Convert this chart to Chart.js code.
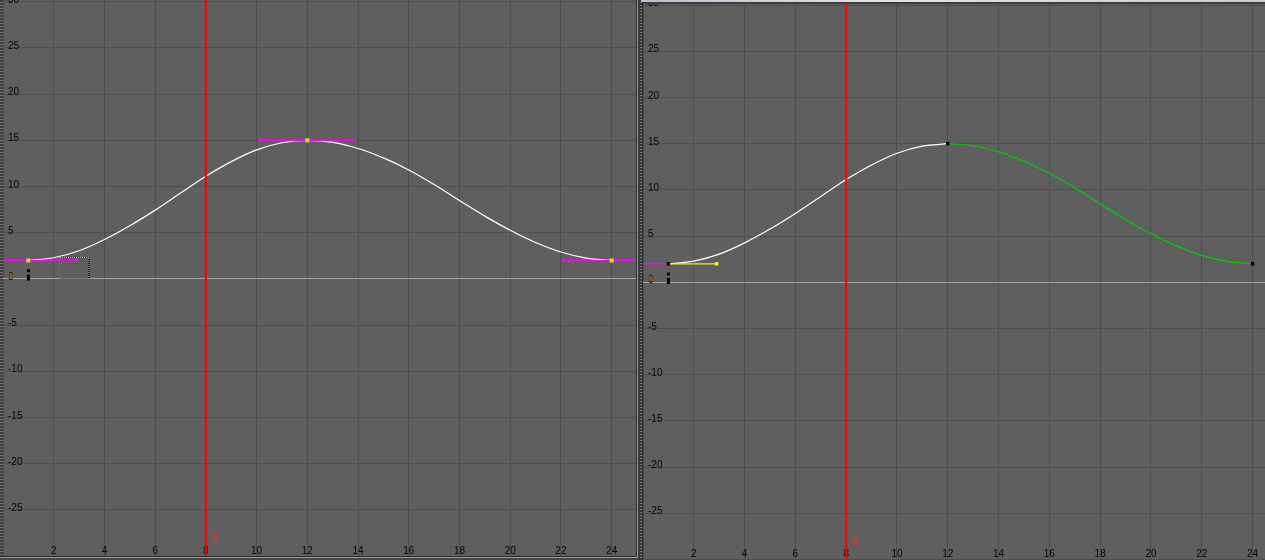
<!DOCTYPE html>
<html>
<head>
<meta charset="utf-8">
<script src="https://cdn.jsdelivr.net/npm/chart.js@4.4.1/dist/chart.umd.min.js"></script>
<style>
html,body{margin:0;padding:0;width:1265px;height:560px;overflow:hidden;background:#474747;}
body{position:relative;}
.abs{position:absolute;}
canvas{background:#5f5f5f;display:block;}
#c1{position:absolute;left:3px;top:0;}
#c2{position:absolute;left:643px;top:4px;}
#lstrip{left:0;top:0;width:3px;height:556px;background:repeating-linear-gradient(to bottom,#3e3e3e 0,#3e3e3e 2px,#737373 2px,#737373 3px);}
#lbot1{left:0;top:556px;width:637px;height:1px;background:#2e2e2e;}
#lbot2{left:0;top:557px;width:638px;height:1px;background:#9a9a9a;}
#lright1{left:636px;top:0;width:1px;height:557px;background:#2e2e2e;}
#lright2{left:637px;top:0;width:1px;height:558px;background:#9a9a9a;}
#div1{left:638px;top:0;width:2px;height:560px;background:#3a3a3a;}
#div2{left:640px;top:0;width:2px;height:560px;background:repeating-linear-gradient(to bottom,#3a3a3a 0,#3a3a3a 2px,#7a7a7a 2px,#7a7a7a 3px);}
#div3{left:642px;top:0;width:1px;height:560px;background:#2e2e2e;}
#rtop1{left:641px;top:0;width:624px;height:2px;background:linear-gradient(to right,#b8c2d0,#dde3ea 40%,#c4ccd8);}
#rtop2{left:641px;top:2px;width:624px;height:2px;background:#3c3c3c;}
.icon{position:absolute;font:bold 9px "DejaVu Sans",sans-serif;color:#8a5a26;line-height:9px;}
</style>
</head>
<body>
<div class="abs" id="lstrip"></div>
<canvas id="c1" width="633" height="556"></canvas>
<div class="abs" id="lbot1"></div>
<div class="abs" id="lbot2"></div>
<div class="abs" id="lright1"></div>
<div class="abs" id="lright2"></div>
<div class="abs" id="div1"></div>
<div class="abs" id="div2"></div>
<div class="abs" id="div3"></div>
<div class="abs" id="rtop1"></div>
<div class="abs" id="rtop2"></div>
<canvas id="c2" width="622" height="556"></canvas>
<span class="icon" style="left:7px;top:271px;">∩</span>
<span class="icon" style="left:647px;top:274px;">∩</span>
<script>
// ---- data (frames / values) ----
const frames = [1,2,3,4,5,6,7,8,9,10,11,12,13,14,15,16,17,18,19,20,21,22,23,24];
const curveValues = [2.0,2.3,3.05,4.27,5.76,7.45,9.3,11.12,12.7,13.97,14.74,15.0,14.78,14.12,13.1,11.8,10.22,8.5,6.8,5.27,3.95,2.92,2.26,2.0];
const keyFrames = [1,12,24];
const keyValues = [2,15,2];
const xTickLabels = [2,4,6,8,10,12,14,16,18,20,22,24];
const yTickLabels = [30,25,20,15,10,5,0,-5,-10,-15,-20,-25];
const currentFrame = 8;

// left panel tangent handles (x pairs, y value)
const leftHandle1X = [-1, 2.9];   const leftHandle1Y = [2, 2];
const leftHandle2X = [10.12, 13.87]; const leftHandle2Y = [15, 15];
const leftHandle3X = [22.12, 26]; const leftHandle3Y = [2, 2];
const leftHandleEndX = [2.9, 10.12, 13.87, 22.12];
const leftHandleEndY = [2, 15, 15, 2];
// selection box in left panel
const selBoxX = [2.24, 3.39, 3.39, 2.24, 2.24];
const selBoxY = [2.34, 2.34, 0.03, 0.03, 2.34];
// right panel handles
const rightInHandleX = [-1, 1];  const rightInHandleY = [2, 2];
const rightOutHandleX = [1, 2.9]; const rightOutHandleY = [2, 2];
// timeline key marker
const markerSmallY = 0.9;
const markerTallY = [-0.18, 0.47];

const pts = (xs, ys) => xs.map((x, i) => ({x, y: ys[i]}));
const curveAll = pts(frames, curveValues);
const curveFirst = curveAll.filter(p => p.x <= 12);
const curveSecond = curveAll.filter(p => p.x >= 12);

const editorText = {
  id: 'editorText',
  beforeDatasetsDraw(chart, args, opts) {
    const {ctx, chartArea: a, scales: {x, y}} = chart;
    ctx.save();
    ctx.fillStyle = '#050505';
    ctx.font = '10px "Liberation Sans", Arial, sans-serif';
    ctx.textBaseline = 'alphabetic';
    ctx.textAlign = 'left';
    yTickLabels.forEach(v => ctx.fillText(String(v), a.left + 5, y.getPixelForValue(v) + 1));
    ctx.textAlign = 'center';
    xTickLabels.forEach(v => ctx.fillText(String(v), x.getPixelForValue(v), a.bottom - opts.xBase));
    ctx.restore();
  },
  afterDatasetsDraw(chart, args, opts) {
    const {ctx, chartArea: a, scales: {x}} = chart;
    ctx.save();
    ctx.fillStyle = '#ff2a2a';
    ctx.font = '10.5px "Liberation Sans", Arial, sans-serif';
    ctx.textAlign = 'left';
    ctx.textBaseline = 'alphabetic';
    ctx.fillText(String(currentFrame), x.getPixelForValue(currentFrame) + 6, a.bottom - opts.redBase);
    ctx.restore();
  }
};

function lineDs(data, color, width, extra) {
  return Object.assign({data, borderColor: color, backgroundColor: color, borderWidth: width,
    pointRadius: 0, fill: false, tension: 0}, extra || {});
}
function pointDs(data, color, radius) {
  return {data, showLine: false, pointStyle: 'rect', pointRadius: radius, pointBorderWidth: 0,
    pointBackgroundColor: color, pointBorderColor: color, borderColor: color, backgroundColor: color};
}

function makeChart(id, xMax, yMin, yMax, datasets, textOpts) {
  return new Chart(document.getElementById(id), {
    type: 'line',
    data: {datasets},
    options: {
      responsive: false, animation: false, devicePixelRatio: 1, events: [],
      layout: {padding: 0, autoPadding: false},
      plugins: {legend: {display: false}, tooltip: {enabled: false}, editorText: textOpts},
      scales: {
        x: {type: 'linear', min: 0, max: xMax, border: {display: false},
            ticks: {display: false, stepSize: 2, includeBounds: false},
            grid: {color: '#4f4f4f', drawTicks: false, lineWidth: 1}},
        y: {type: 'linear', min: yMin, max: yMax, border: {display: false},
            ticks: {display: false, stepSize: 5, includeBounds: false},
            grid: {color: c => (c.tick && c.tick.value === 0) ? '#a2a2a2' : '#4f4f4f', drawTicks: false, lineWidth: 1}}
      }
    },
    plugins: [editorText]
  });
}

// Left panel (first dataset drawn on top)
const leftYMax = 30.19, leftYMin = -29.98;
makeChart('c1', 24.96, leftYMin, leftYMax, [
  lineDs([{x: currentFrame, y: leftYMin - 1}, {x: currentFrame, y: leftYMax + 1}], '#ff0000', 2),
  pointDs(pts(keyFrames, keyValues), '#e6e61a', 2.8),
  pointDs(pts(leftHandleEndX, leftHandleEndY), '#ff00ff', 2.1),
  lineDs(pts(selBoxX, selBoxY), '#ffffff', 1, {borderDash: [1, 1]}),
  lineDs(pts(selBoxX, selBoxY), '#000000', 1),
  lineDs(pts(leftHandle1X, leftHandle1Y), '#ff00ff', 1.4),
  lineDs(pts(leftHandle2X, leftHandle2Y), '#ff00ff', 1.4),
  lineDs(pts(leftHandle3X, leftHandle3Y), '#ff00ff', 1.4),
  lineDs(curveAll, '#ffffff', 1.2, {cubicInterpolationMode: 'monotone'}),
  pointDs([{x: 1, y: markerSmallY}], '#000000', 2.1),
  lineDs([{x: 1, y: markerTallY[0]}, {x: 1, y: markerTallY[1]}], '#000000', 3)
], {xBase: 2, redBase: 14});

// Right panel
const rightYMax = 30.12, rightYMin = -30.05;
makeChart('c2', 24.49, rightYMin, rightYMax, [
  lineDs([{x: currentFrame, y: rightYMin - 1}, {x: currentFrame, y: rightYMax + 1}], '#ff0000', 2),
  pointDs(pts(keyFrames, keyValues), '#000000', 2.4),
  pointDs([{x: rightOutHandleX[1], y: rightOutHandleY[1]}], '#ffff00', 2.4),
  lineDs(pts(rightOutHandleX, rightOutHandleY), '#f0f000', 1.4),
  lineDs(pts(rightInHandleX, rightInHandleY), '#ff00ff', 1.4),
  lineDs(curveSecond, '#00cc00', 1.2, {cubicInterpolationMode: 'monotone'}),
  lineDs(curveFirst, '#ffffff', 1.2, {cubicInterpolationMode: 'monotone'}),
  pointDs([{x: 1, y: markerSmallY}], '#000000', 2.1),
  lineDs([{x: 1, y: markerTallY[0]}, {x: 1, y: markerTallY[1]}], '#000000', 3)
], {xBase: 3, redBase: 15});
</script>
</body>
</html>
